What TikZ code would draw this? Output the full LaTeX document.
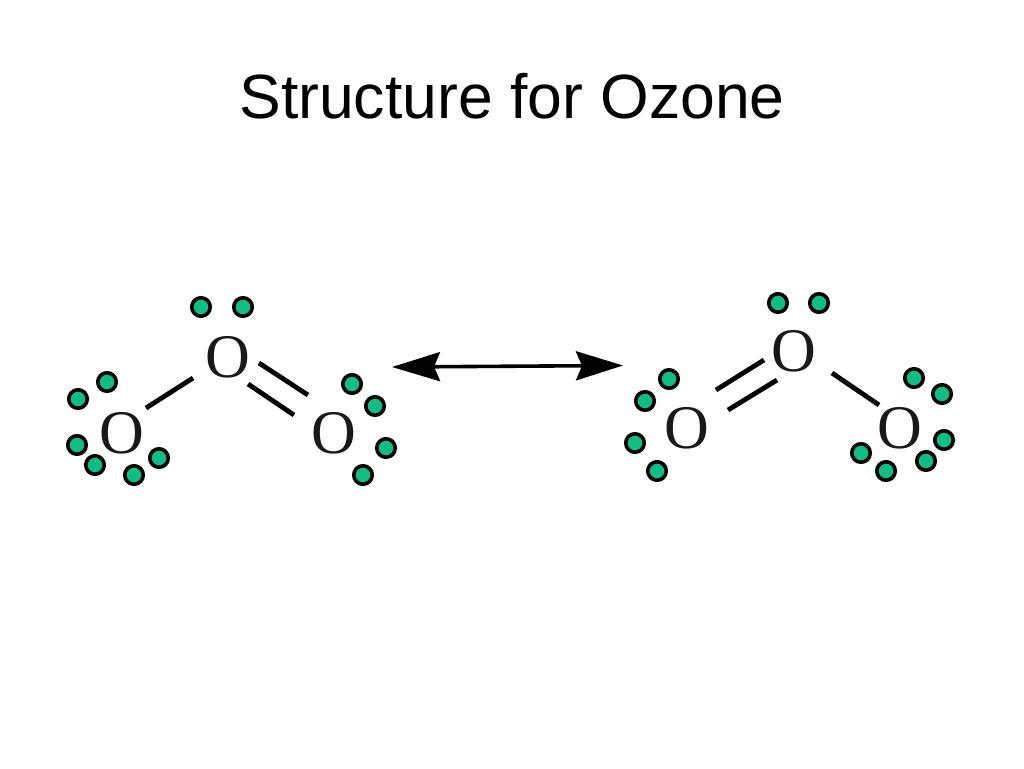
\documentclass[tikz,border=0pt]{standalone}
\usepackage{fontspec}
\setmainfont{Liberation Sans}
\newfontfamily\atomfont{Liberation Serif}
\usetikzlibrary{arrows.meta}
\definecolor{dotgreen}{HTML}{12BC86}
\tikzset{
  x=1pt,y=-1pt,
  titletext/.style={anchor=base,inner sep=0pt,font=\fontsize{62.5}{72}\selectfont},
  atom/.style={inner sep=0pt,font=\atomfont\fontsize{62}{70}\selectfont,text=black!90},
  epair/.style={circle,draw=black,line width=3.6pt,fill=dotgreen,minimum size=18.5pt,inner sep=0pt},
  bond/.style={line width=4.8pt,black},
  resonance/.style={line width=3.6pt,black,{Stealth[length=48pt,width=29pt,inset=6pt]}-{Stealth[length=47pt,width=29pt,inset=6pt]}}
}
\begin{document}
\begin{tikzpicture}
\useasboundingbox (0,0) rectangle (1024,768);
\node[titletext] (title) at (512,118) {Structure for Ozone};

% left structure
\node[atom] (lt) at (228,357) {O};
\node[atom] (ll) at (122,433) {O};
\node[atom] (lr) at (334,433) {O};
\node[epair] (la) at (201,307) {};
\node[epair] (lb) at (243,307) {};
\node[epair] (lc) at (107,382) {};
\node[epair] (ld) at (78,399) {};
\node[epair] (le) at (77,445) {};
\node[epair] (lf) at (95,465) {};
\node[epair] (lg) at (134,475) {};
\node[epair] (lh) at (159,458) {};
\node[epair] (li) at (352,384) {};
\node[epair] (lj) at (375,406) {};
\node[epair] (lk) at (386,448) {};
\node[epair] (lm) at (363,475) {};
\coordinate (b1a) at (193,378);
\coordinate (b1b) at (146,408);
\coordinate (b2a) at (259,363);
\coordinate (b2b) at (308,395);
\coordinate (b3a) at (248,384);
\coordinate (b3b) at (294,415);
\draw[bond] (b1a) -- (b1b);
\draw[bond] (b2a) -- (b2b);
\draw[bond] (b3a) -- (b3b);

% resonance arrow
\coordinate (al) at (392,367);
\coordinate (ar) at (623,365.5);
\draw[resonance] (al) -- (ar);

% right structure
\node[atom] (rt) at (794,351) {O};
\node[atom] (rl) at (687,428) {O};
\node[atom] (rr) at (900,428) {O};
\node[epair] (ra) at (778,303) {};
\node[epair] (rb) at (819,303) {};
\node[epair] (rc) at (669,379) {};
\node[epair] (rd) at (645,401) {};
\node[epair] (re) at (635,443) {};
\node[epair] (rf) at (657,471) {};
\node[epair] (rg) at (914,378) {};
\node[epair] (rh) at (942,394) {};
\node[epair] (ri) at (944,440) {};
\node[epair] (rj) at (926,461) {};
\node[epair] (rk) at (886,471) {};
\node[epair] (rm) at (861,453) {};
\coordinate (c1a) at (716,390);
\coordinate (c1b) at (764,360);
\coordinate (c2a) at (728,410);
\coordinate (c2b) at (777,380);
\coordinate (c3a) at (832,373);
\coordinate (c3b) at (879,405);
\draw[bond] (c1a) -- (c1b);
\draw[bond] (c2a) -- (c2b);
\draw[bond] (c3a) -- (c3b);
\end{tikzpicture}
\end{document}
